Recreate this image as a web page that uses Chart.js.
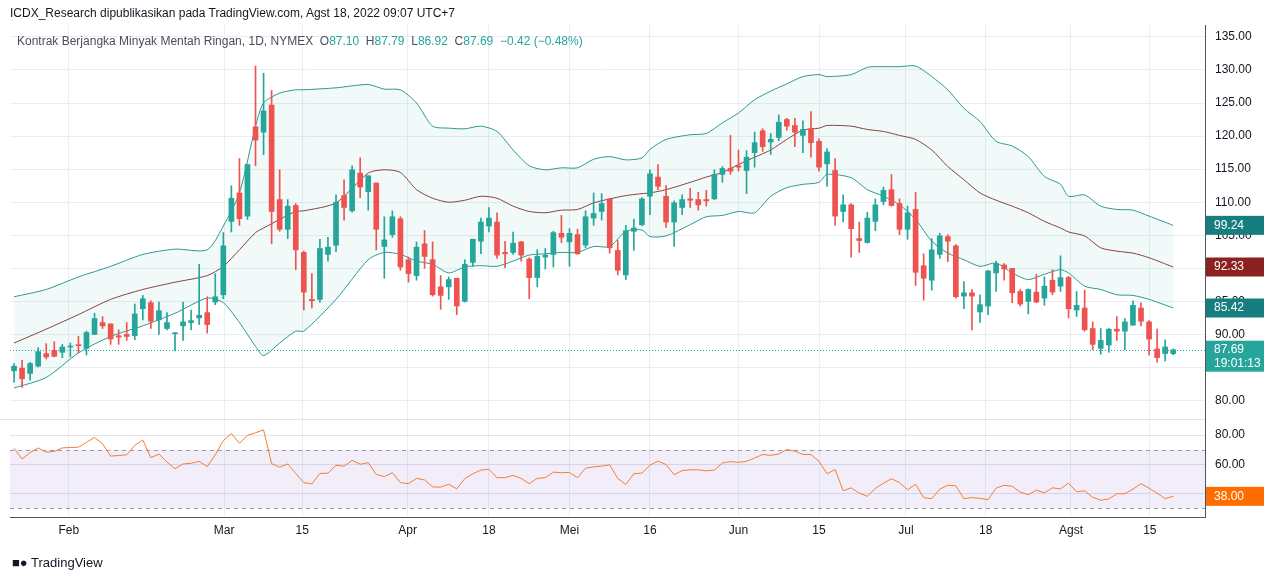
<!DOCTYPE html>
<html>
<head>
<meta charset="utf-8">
<script src="https://cdn.jsdelivr.net/npm/chart.js@4"></script>
<style>
  body { margin: 0; background: #fff; font-family: "Liberation Sans", Arial, sans-serif; }
  #wrap { position: relative; width: 1280px; height: 581px; }
  #head { position: absolute; left: 10px; top: 6px; font-size: 12px; color: #131722; }
  #legend { position: absolute; left: 17px; top: 34px; font-size: 12px; color: #4a4e5a; }
  #legend b { font-weight: normal; color: #26a69a; }
  #logo { position: absolute; left: 12px; top: 555px; font-size: 13px; color: #131722; }
</style>
</head>
<body>
<div id="wrap">
  <canvas id="myChart" width="1280" height="581"></canvas>
  <div id="head">ICDX_Research dipublikasikan pada TradingView.com, Agst 18, 2022 09:07 UTC+7</div>
  <div id="legend">Kontrak Berjangka Minyak Mentah Ringan, 1D, NYMEX&nbsp;&nbsp;O<b>87.10</b>&nbsp;&nbsp;H<b>87.79</b>&nbsp;&nbsp;L<b>86.92</b>&nbsp;&nbsp;C<b>87.69</b>&nbsp;&nbsp;<b>−0.42 (−0.48%)</b></div>
  <div id="logo">&#9632;&#9679; TradingView</div>
</div>
<script>
// daily candles, Jan 21 .. Aug 17 2022
const opens = [84.5,84.9,84.1,85.2,87.1,87.6,87.3,88.1,88.4,87.9,
  90.0,91.8,91.6,89.8,90.0,89.8,93.9,94.8,92.2,90.9,
  90.1,91.3,91.8,92.5,93.3,94.9,96.0,107.1,111.4,107.9,
  121.4,120.6,124.7,110.4,105.9,109.5,102.4,95.3,95.3,102.1,
  103.5,111.0,108.7,114.4,111.6,112.9,103.3,105.1,107.5,101.3,
  98.9,103.7,101.3,97.2,97.2,98.5,95.0,100.9,104.1,106.4,
  107.0,102.4,102.4,104.0,101.4,98.6,101.7,102.1,105.3,104.0,
  105.1,103.5,107.6,108.6,110.5,102.7,99.0,105.6,106.6,110.9,
  113.8,110.9,107.0,109.2,110.5,110.4,110.4,110.5,114.2,115.1,
  115.5,114.8,117.5,120.8,119.1,119.8,122.5,121.6,120.1,121.1,
  119.2,115.8,114.8,108.6,109.6,104.5,103.9,107.1,110.1,111.9,
  109.8,105.9,108.9,100.4,98.2,102.1,104.8,103.4,95.8,96.3,
  93.4,94.3,99.3,100.5,100.0,96.5,95.0,96.4,95.5,98.2,
  97.3,98.6,93.7,94.0,90.9,87.9,88.4,90.8,90.5,91.4,
  94.0,91.9,87.8,87.1,87.10];
const highs = [85.6,86.1,85.8,88.0,88.6,88.9,88.5,88.7,89.7,90.5,
  93.2,92.7,91.6,90.7,91.8,94.6,95.9,95.1,94.9,93.3,
  90.3,94.9,93.7,100.6,95.7,99.2,105.4,112.5,116.6,115.7,
  130.6,129.5,126.9,114.9,110.4,109.8,102.6,99.2,104.4,104.7,
  111.1,113.4,115.5,116.7,114.0,112.9,107.8,108.7,107.8,101.7,
  104.0,105.7,104.0,98.9,98.7,98.5,101.3,104.4,107.6,109.2,
  108.4,104.1,105.5,104.1,101.6,102.8,103.0,105.6,108.0,106.0,
  105.9,108.7,111.4,111.3,110.5,104.2,106.5,107.4,110.7,114.9,
  115.7,112.5,110.2,111.1,112.1,111.5,111.8,114.9,115.4,120.1,
  117.9,117.8,120.6,121.1,120.4,123.2,122.7,122.7,122.3,123.7,
  119.6,118.1,116.6,111.1,109.8,107.0,108.5,110.5,112.3,114.2,
  110.5,109.4,111.5,102.2,104.5,105.3,105.1,103.6,98.0,96.8,
  96.0,99.7,101.1,100.7,100.0,96.8,96.9,99.1,98.7,99.8,
  101.9,98.8,96.5,96.7,91.9,90.9,90.9,92.7,92.4,95.1,
  94.8,92.1,90.8,89.2,87.79];
const lows = [82.8,82.0,83.1,85.1,86.3,86.6,86.5,86.6,87.2,86.9,
  90.0,90.9,88.5,88.5,89.1,89.2,92.2,90.9,90.0,90.7,
  87.5,89.1,90.7,91.5,90.2,94.5,95.4,105.5,106.5,107.4,
  115.5,117.2,103.7,105.6,104.5,99.8,93.7,94.0,94.9,101.1,
  102.5,107.3,108.5,110.7,108.8,102.8,98.5,104.7,99.7,97.9,
  98.2,100.0,95.8,93.8,95.3,93.0,94.9,100.3,102.2,105.5,
  101.5,100.1,102.1,101.1,95.4,97.2,99.9,100.2,103.9,100.3,
  102.1,103.1,106.5,107.3,102.3,99.0,98.3,102.7,106.4,108.1,
  111.9,106.2,103.3,108.1,109.2,108.8,109.4,110.4,113.0,114.2,
  114.7,111.3,115.3,117.7,117.2,119.3,120.9,118.4,117.5,116.8,
  114.7,112.4,106.5,107.0,101.7,102.4,103.8,105.7,109.6,109.4,
  105.1,104.4,97.4,95.2,96.7,101.5,101.0,95.5,93.9,90.7,
  91.8,93.0,96.5,98.2,94.8,94.3,93.1,94.8,94.4,96.0,
  96.5,92.5,92.7,90.5,87.7,87.0,87.3,89.1,87.7,91.4,
  91.3,86.9,85.8,86.0,86.92];
const closes = [85.2,83.3,85.6,87.4,86.6,86.7,88.1,88.2,88.3,90.3,
  92.4,91.3,89.3,89.6,89.7,93.1,95.4,92.0,93.6,91.8,
  90.2,91.9,92.1,92.9,91.5,95.7,103.4,110.6,107.5,115.7,
  119.4,123.8,108.6,105.9,109.4,102.8,96.4,95.1,103.0,103.2,
  110.0,109.2,114.9,112.3,114.0,105.9,104.3,107.8,100.2,99.2,
  103.2,101.8,96.0,95.9,98.3,94.3,100.6,104.4,107.0,107.6,
  102.0,102.2,103.8,102.0,98.6,101.8,102.0,105.4,104.7,105.3,
  102.2,107.8,108.3,109.8,103.1,99.7,105.7,106.1,110.5,114.3,
  112.4,107.0,109.9,110.4,110.3,109.6,110.2,114.2,115.1,114.7,
  115.3,116.8,119.0,118.4,119.5,122.1,121.5,120.6,121.0,119.0,
  115.3,117.6,107.9,109.6,106.0,104.2,107.6,109.6,111.8,109.5,
  105.9,108.4,99.4,98.5,102.8,104.9,104.1,95.7,96.3,95.8,
  94.5,99.6,100.7,99.9,96.3,94.6,96.8,94.9,97.3,96.4,
  98.6,93.9,94.4,90.7,88.5,89.1,90.8,90.5,91.9,94.4,
  92.0,89.3,86.5,88.1,87.69];

// Bollinger bands as drawn (sampled candles)
const bandIdx = [0,4,8,12,16,20,24,26,28,30,31,33,35,36,40,44,46,48,50,52,54,56,58,60,62,64,66,68,70,72,
  74,76,78,79,81,84,86,88,90,92,94,96,98,100,101,104,106,108,110,112,114,116,118,120,122,124,126,128,130,131,133,135,137,139,141,144];
const bandUpper = [95.7,96.8,98.7,100.3,102.1,102.9,102.8,106.4,111.4,121.5,125.0,126.5,127.0,127.0,127.3,127.8,127.1,127.0,125.0,121.5,121.2,121.1,121.5,120.7,117.9,115.5,114.9,115.2,115.2,116.5,
  116.9,116.4,116.7,118.0,119.5,120.2,120.4,122.0,123.5,125.5,126.8,127.9,129.0,129.3,129.0,129.3,130.4,130.5,130.5,130.6,129.0,127.0,124.2,122.2,119.2,118.5,116.9,113.9,112.7,110.9,111.1,109.4,108.9,108.8,107.9,106.5];
const bandMid = [88.7,90.8,93.0,95.3,96.8,97.9,98.9,100.3,102.8,105.4,106.1,107.4,108.6,108.7,109.9,114.4,114.9,114.5,111.9,110.6,110.0,110.3,110.9,110.6,109.4,108.6,108.4,108.8,108.9,109.9,
  110.5,111.0,111.3,111.4,111.9,113.0,113.8,114.5,115.7,116.8,117.9,119.5,120.9,121.2,121.6,121.5,121.0,120.7,120.1,119.5,117.9,115.4,113.4,111.4,110.3,109.4,108.4,107.1,106.1,105.5,104.9,103.1,102.6,102.3,101.6,100.2];
const bandLower = [81.9,83.5,87.2,89.7,91.3,93.2,95.5,94.8,91.8,88.2,86.8,88.7,90.5,90.5,95.3,101.3,102.4,102.1,101.1,100.6,99.3,100.2,100.4,100.3,101.1,102.0,102.2,102.4,102.4,103.3,
  103.3,105.6,105.8,104.8,104.9,106.6,107.8,108.0,108.6,108.4,110.9,112.2,112.7,113.0,114.2,113.7,111.9,110.9,109.6,107.4,104.1,102.3,101.3,100.3,100.8,99.3,98.3,99.1,99.8,99.3,97.3,96.8,96.0,95.9,95.3,94.0];

// RSI(14)
const rsi = [71,63.6,68,71.2,68.3,68.8,71.2,71.5,71.7,75,
  78.4,74,65.6,66,66.5,73,76.6,64.5,67,61.6,
  56.9,60.2,60.7,62,58.4,66.5,76.2,81.1,74.4,79.8,
  81.6,83.6,60.4,58,60.2,53.7,47.4,46.5,53.7,53.9,
  59.3,58.7,62.7,60,61.1,53,51.5,54.2,47.4,46.7,
  50.3,49.2,44.5,44.3,46.3,43.1,50.1,53.5,56,56.6,
  50.8,50.8,52.4,50.3,46.7,50.3,50.8,54.6,54.2,54.4,
  50.8,57.3,58.2,58.7,59.6,50.3,46.1,53.5,53.9,59.3,
  62.2,59.8,52.8,55.7,56.2,56.2,55.5,56,60.9,61.8,
  61.3,62,64.3,66.7,66.1,67,70.1,69,66.7,66.7,
  62,53.5,56.4,41.8,43.8,40.2,38,43.4,47,50.1,
  47.4,42.5,46.3,37.1,36.4,42.9,45.6,45.2,36.4,37.1,
  36.6,35.7,43.6,45.6,44.9,40.9,39.1,42.2,40.4,43.8,
  43.1,47,41.1,41.8,37.3,35.3,36.2,39.8,39.8,42.9,
  46.7,43.6,40.2,36.4,38.0];

const monthPos = [6.8,26.1,35.8,48.9,59,69,79,90,100,110.8,120.7,131.3,141.1];
const monthText = ['Feb','Mar','15','Apr','18','Mei','16','Jun','15','Jul','18','Agst','15'];
const priceTicks = [80,85,90,95,100,105,110,115,120,125,130,135];
const priceTickText = ['80.00','','90.00','85.00','100.00','105.00','110.00','115.00','120.00','125.00','130.00','135.00'];
const sideLabels = [
  { text: '99.24', band: 'upper', bg: '#167e7e' },
  { text: '92.33', band: 'mid', bg: '#8b2121' },
  { text: '85.42', band: 'lower', bg: '#167e7e' }
];

const UP = '#26a69a', DOWN = '#ef5350';
const candleColor = closes.map((c, i) => c >= opens[i] ? UP : DOWN);
const wicks = highs.map((h, i) => ({ x: i, y: [lows[i], h] }));
const bodies = opens.map((o, i) => ({ x: i, y: [Math.min(o, closes[i]), Math.max(o, closes[i])] }));
const pts = (arr) => bandIdx.map((ix, k) => ({ x: ix, y: arr[k] }));
const lastClose = closes[closes.length - 1];

const overlay = {
  id: 'overlay',
  beforeDatasetsDraw(chart) {
    const { ctx, chartArea } = chart;
    const y2 = chart.scales.y2;
    ctx.save();
    ctx.fillStyle = 'rgba(126,87,194,0.1)';
    ctx.fillRect(chartArea.left, y2.getPixelForValue(70), chartArea.right - chartArea.left, y2.getPixelForValue(30) - y2.getPixelForValue(70));
    ctx.strokeStyle = '#9c9aa8';
    ctx.setLineDash([4, 4]);
    [70, 30].forEach(v => {
      const py = Math.round(y2.getPixelForValue(v)) + 0.5;
      ctx.beginPath(); ctx.moveTo(chartArea.left, py); ctx.lineTo(chartArea.right, py); ctx.stroke();
    });
    // last price dotted line
    const y = chart.scales.y;
    const py = Math.round(y.getPixelForValue(lastClose)) + 0.5;
    ctx.strokeStyle = UP;
    ctx.setLineDash([1, 2]);
    ctx.beginPath(); ctx.moveTo(chartArea.left, py); ctx.lineTo(chartArea.right, py); ctx.stroke();
    // panel separator
    ctx.setLineDash([]);
    ctx.strokeStyle = '#e0e3eb';
    const sep = Math.round(y.bottom) + 0.5;
    ctx.beginPath(); ctx.moveTo(0, sep); ctx.lineTo(chartArea.right, sep); ctx.stroke();
    ctx.restore();
  },
  afterDraw(chart) {
    const { ctx, chartArea } = chart;
    const y = chart.scales.y, y2 = chart.scales.y2;
    const x0 = chartArea.right + 1;
    ctx.save();
    ctx.font = '12px "Liberation Sans", Arial';
    ctx.textBaseline = 'middle';
    const box = (text, py, bg, h) => {
      ctx.fillStyle = bg;
      ctx.fillRect(x0, py - h / 2, 58, h);
      ctx.fillStyle = '#fff';
      ctx.fillText(text, x0 + 8, py);
    };
    const last = { upper: bandUpper, mid: bandMid, lower: bandLower };
    sideLabels.forEach(l => { const a = last[l.band]; box(l.text, y.getPixelForValue(a[a.length - 1]), l.bg, 19); });
    const pc = y.getPixelForValue(lastClose);
    ctx.fillStyle = UP;
    ctx.fillRect(x0, pc - 9, 58, 31);
    ctx.fillStyle = '#fff';
    ctx.fillText(lastClose.toFixed(2), x0 + 8, pc);
    ctx.fillText('19:01:13', x0 + 8, pc + 14);
    box(rsi[rsi.length - 1].toFixed(2), y2.getPixelForValue(rsi[rsi.length - 1]), '#ff6d00', 19);
    ctx.restore();
  }
};

const config = {
  data: {
    datasets: [
      { type: 'line', data: pts(bandUpper), borderColor: '#2b9890', borderWidth: 1, pointRadius: 0, tension: 0.25, fill: '+2', backgroundColor: 'rgba(38,166,154,0.06)', yAxisID: 'y', order: 3 },
      { type: 'line', data: pts(bandMid), borderColor: '#8d3a3a', borderWidth: 1, pointRadius: 0, tension: 0.25, fill: false, yAxisID: 'y', order: 3 },
      { type: 'line', data: pts(bandLower), borderColor: '#2b9890', borderWidth: 1, pointRadius: 0, tension: 0.25, fill: false, yAxisID: 'y', order: 3 },
      { type: 'bar', data: wicks, backgroundColor: candleColor, barThickness: 1, grouped: false, yAxisID: 'y', order: 2 },
      { type: 'bar', data: bodies, backgroundColor: candleColor, barThickness: 5, minBarLength: 1, grouped: false, yAxisID: 'y', order: 1 },
      { type: 'line', data: rsi.map((v, i) => ({ x: i, y: v })), borderColor: '#f57c32', borderWidth: 1, pointRadius: 0, fill: false, yAxisID: 'y2', order: 0 }
    ]
  },
  options: {
    responsive: false,
    animation: false,
    layout: { padding: { top: 25, left: 10, bottom: 37, right: 0 } },
    plugins: { legend: { display: false }, tooltip: { enabled: false } },
    scales: {
      x: {
        type: 'linear', min: -0.5, max: 147.95, offset: false,
        afterBuildTicks: (s) => { s.ticks = monthPos.map(v => ({ value: v })); },
        ticks: { autoSkip: false, maxRotation: 0, padding: 6, color: '#131722', font: { size: 12, family: 'Liberation Sans' },
          callback: (v, i) => monthText[i] },
        grid: { color: '#e9eef2', drawTicks: false, offset: false },
        border: { display: true, color: '#50535e' }
      },
      y: {
        type: 'linear', position: 'right', stack: 'pane', stackWeight: 4, min: 77.2, max: 136.8,
        afterBuildTicks: (s) => { s.ticks = priceTicks.map(v => ({ value: v })); },
        afterFit: (s) => { s.width = 75; },
        ticks: { padding: 10, color: '#131722', font: { size: 12, family: 'Liberation Sans' },
          callback: (v) => priceTickText[priceTicks.indexOf(v)] },
        grid: { color: '#e9eef2', drawTicks: false },
        border: { display: true, color: '#50535e' }
      },
      y2: {
        type: 'linear', position: 'right', stack: 'pane', stackWeight: 1, min: 23.4, max: 91,
        afterBuildTicks: (s) => { s.ticks = [40, 60, 80].map(v => ({ value: v })); },
        afterFit: (s) => { s.width = 75; },
        ticks: { padding: 10, color: '#131722', font: { size: 12, family: 'Liberation Sans' },
          callback: (v) => v.toFixed(2) },
        grid: { color: '#e3e1f0', drawTicks: false },
        border: { display: true, color: '#50535e' }
      }
    }
  },
  plugins: [overlay]
};

var myChart = new Chart(document.getElementById('myChart'), config);
</script>
</body>
</html>
